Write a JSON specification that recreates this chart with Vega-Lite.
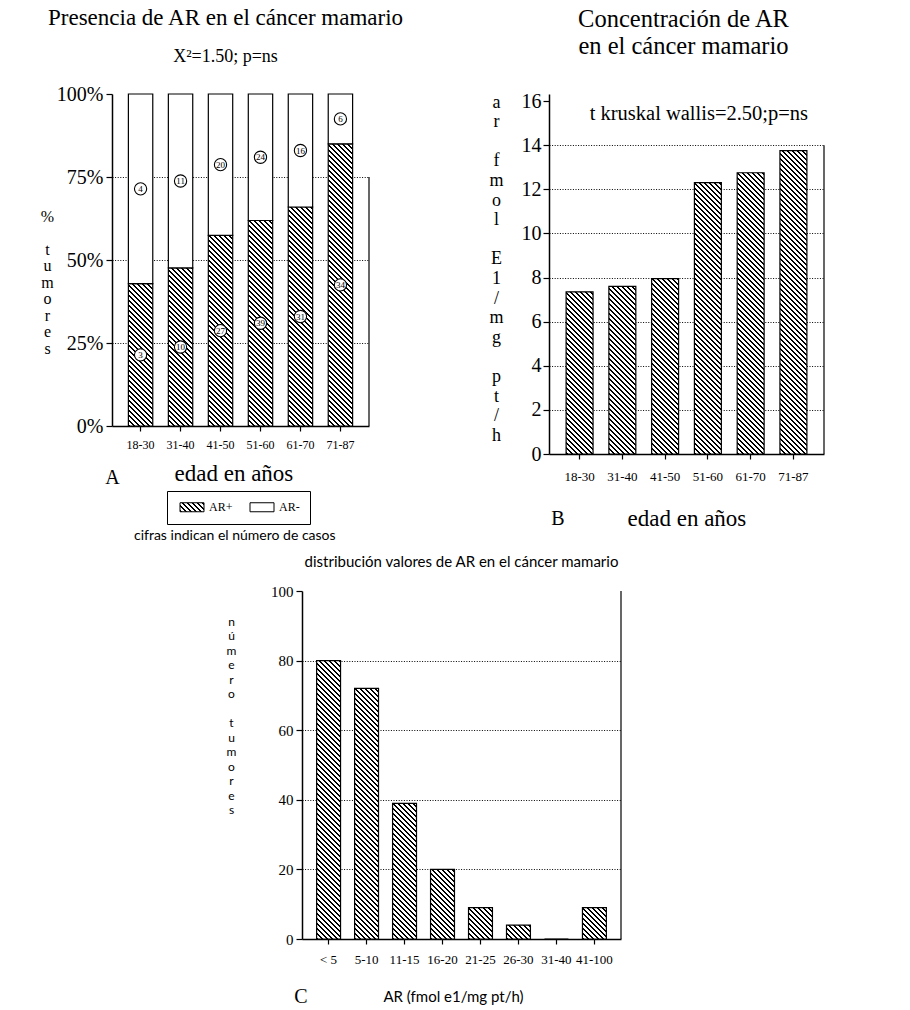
{
  "$schema": "https://vega.github.io/schema/vega-lite/v6.json",
  "background": "white",
  "padding": {"left": 40, "top": 6, "right": 5, "bottom": 2},
  "params": [
    {
      "name": "hatch",
      "value": [
        {"offset":0,"color":"#000"},{"offset":0.00571,"color":"#000"},{"offset":0.00571,"color":"#fff"},{"offset":0.01429,"color":"#fff"},
        {"offset":0.01429,"color":"#000"},{"offset":0.02,"color":"#000"},{"offset":0.02,"color":"#fff"},{"offset":0.02857,"color":"#fff"},
        {"offset":0.02857,"color":"#000"},{"offset":0.03429,"color":"#000"},{"offset":0.03429,"color":"#fff"},{"offset":0.04286,"color":"#fff"},
        {"offset":0.04286,"color":"#000"},{"offset":0.04857,"color":"#000"},{"offset":0.04857,"color":"#fff"},{"offset":0.05714,"color":"#fff"},
        {"offset":0.05714,"color":"#000"},{"offset":0.06286,"color":"#000"},{"offset":0.06286,"color":"#fff"},{"offset":0.07143,"color":"#fff"},
        {"offset":0.07143,"color":"#000"},{"offset":0.07714,"color":"#000"},{"offset":0.07714,"color":"#fff"},{"offset":0.08571,"color":"#fff"},
        {"offset":0.08571,"color":"#000"},{"offset":0.09143,"color":"#000"},{"offset":0.09143,"color":"#fff"},{"offset":0.1,"color":"#fff"},
        {"offset":0.1,"color":"#000"},{"offset":0.10571,"color":"#000"},{"offset":0.10571,"color":"#fff"},{"offset":0.11429,"color":"#fff"},
        {"offset":0.11429,"color":"#000"},{"offset":0.12,"color":"#000"},{"offset":0.12,"color":"#fff"},{"offset":0.12857,"color":"#fff"},
        {"offset":0.12857,"color":"#000"},{"offset":0.13429,"color":"#000"},{"offset":0.13429,"color":"#fff"},{"offset":0.14286,"color":"#fff"},
        {"offset":0.14286,"color":"#000"},{"offset":0.14857,"color":"#000"},{"offset":0.14857,"color":"#fff"},{"offset":0.15714,"color":"#fff"},
        {"offset":0.15714,"color":"#000"},{"offset":0.16286,"color":"#000"},{"offset":0.16286,"color":"#fff"},{"offset":0.17143,"color":"#fff"},
        {"offset":0.17143,"color":"#000"},{"offset":0.17714,"color":"#000"},{"offset":0.17714,"color":"#fff"},{"offset":0.18571,"color":"#fff"},
        {"offset":0.18571,"color":"#000"},{"offset":0.19143,"color":"#000"},{"offset":0.19143,"color":"#fff"},{"offset":0.2,"color":"#fff"},
        {"offset":0.2,"color":"#000"},{"offset":0.20571,"color":"#000"},{"offset":0.20571,"color":"#fff"},{"offset":0.21429,"color":"#fff"},
        {"offset":0.21429,"color":"#000"},{"offset":0.22,"color":"#000"},{"offset":0.22,"color":"#fff"},{"offset":0.22857,"color":"#fff"},
        {"offset":0.22857,"color":"#000"},{"offset":0.23429,"color":"#000"},{"offset":0.23429,"color":"#fff"},{"offset":0.24286,"color":"#fff"},
        {"offset":0.24286,"color":"#000"},{"offset":0.24857,"color":"#000"},{"offset":0.24857,"color":"#fff"},{"offset":0.25714,"color":"#fff"},
        {"offset":0.25714,"color":"#000"},{"offset":0.26286,"color":"#000"},{"offset":0.26286,"color":"#fff"},{"offset":0.27143,"color":"#fff"},
        {"offset":0.27143,"color":"#000"},{"offset":0.27714,"color":"#000"},{"offset":0.27714,"color":"#fff"},{"offset":0.28571,"color":"#fff"},
        {"offset":0.28571,"color":"#000"},{"offset":0.29143,"color":"#000"},{"offset":0.29143,"color":"#fff"},{"offset":0.3,"color":"#fff"},
        {"offset":0.3,"color":"#000"},{"offset":0.30571,"color":"#000"},{"offset":0.30571,"color":"#fff"},{"offset":0.31429,"color":"#fff"},
        {"offset":0.31429,"color":"#000"},{"offset":0.32,"color":"#000"},{"offset":0.32,"color":"#fff"},{"offset":0.32857,"color":"#fff"},
        {"offset":0.32857,"color":"#000"},{"offset":0.33429,"color":"#000"},{"offset":0.33429,"color":"#fff"},{"offset":0.34286,"color":"#fff"},
        {"offset":0.34286,"color":"#000"},{"offset":0.34857,"color":"#000"},{"offset":0.34857,"color":"#fff"},{"offset":0.35714,"color":"#fff"},
        {"offset":0.35714,"color":"#000"},{"offset":0.36286,"color":"#000"},{"offset":0.36286,"color":"#fff"},{"offset":0.37143,"color":"#fff"},
        {"offset":0.37143,"color":"#000"},{"offset":0.37714,"color":"#000"},{"offset":0.37714,"color":"#fff"},{"offset":0.38571,"color":"#fff"},
        {"offset":0.38571,"color":"#000"},{"offset":0.39143,"color":"#000"},{"offset":0.39143,"color":"#fff"},{"offset":0.4,"color":"#fff"},
        {"offset":0.4,"color":"#000"},{"offset":0.40571,"color":"#000"},{"offset":0.40571,"color":"#fff"},{"offset":0.41429,"color":"#fff"},
        {"offset":0.41429,"color":"#000"},{"offset":0.42,"color":"#000"},{"offset":0.42,"color":"#fff"},{"offset":0.42857,"color":"#fff"},
        {"offset":0.42857,"color":"#000"},{"offset":0.43429,"color":"#000"},{"offset":0.43429,"color":"#fff"},{"offset":0.44286,"color":"#fff"},
        {"offset":0.44286,"color":"#000"},{"offset":0.44857,"color":"#000"},{"offset":0.44857,"color":"#fff"},{"offset":0.45714,"color":"#fff"},
        {"offset":0.45714,"color":"#000"},{"offset":0.46286,"color":"#000"},{"offset":0.46286,"color":"#fff"},{"offset":0.47143,"color":"#fff"},
        {"offset":0.47143,"color":"#000"},{"offset":0.47714,"color":"#000"},{"offset":0.47714,"color":"#fff"},{"offset":0.48571,"color":"#fff"},
        {"offset":0.48571,"color":"#000"},{"offset":0.49143,"color":"#000"},{"offset":0.49143,"color":"#fff"},{"offset":0.5,"color":"#fff"},
        {"offset":0.5,"color":"#000"},{"offset":0.50571,"color":"#000"},{"offset":0.50571,"color":"#fff"},{"offset":0.51429,"color":"#fff"},
        {"offset":0.51429,"color":"#000"},{"offset":0.52,"color":"#000"},{"offset":0.52,"color":"#fff"},{"offset":0.52857,"color":"#fff"},
        {"offset":0.52857,"color":"#000"},{"offset":0.53429,"color":"#000"},{"offset":0.53429,"color":"#fff"},{"offset":0.54286,"color":"#fff"},
        {"offset":0.54286,"color":"#000"},{"offset":0.54857,"color":"#000"},{"offset":0.54857,"color":"#fff"},{"offset":0.55714,"color":"#fff"},
        {"offset":0.55714,"color":"#000"},{"offset":0.56286,"color":"#000"},{"offset":0.56286,"color":"#fff"},{"offset":0.57143,"color":"#fff"},
        {"offset":0.57143,"color":"#000"},{"offset":0.57714,"color":"#000"},{"offset":0.57714,"color":"#fff"},{"offset":0.58571,"color":"#fff"},
        {"offset":0.58571,"color":"#000"},{"offset":0.59143,"color":"#000"},{"offset":0.59143,"color":"#fff"},{"offset":0.6,"color":"#fff"},
        {"offset":0.6,"color":"#000"},{"offset":0.60571,"color":"#000"},{"offset":0.60571,"color":"#fff"},{"offset":0.61429,"color":"#fff"},
        {"offset":0.61429,"color":"#000"},{"offset":0.62,"color":"#000"},{"offset":0.62,"color":"#fff"},{"offset":0.62857,"color":"#fff"},
        {"offset":0.62857,"color":"#000"},{"offset":0.63429,"color":"#000"},{"offset":0.63429,"color":"#fff"},{"offset":0.64286,"color":"#fff"},
        {"offset":0.64286,"color":"#000"},{"offset":0.64857,"color":"#000"},{"offset":0.64857,"color":"#fff"},{"offset":0.65714,"color":"#fff"},
        {"offset":0.65714,"color":"#000"},{"offset":0.66286,"color":"#000"},{"offset":0.66286,"color":"#fff"},{"offset":0.67143,"color":"#fff"},
        {"offset":0.67143,"color":"#000"},{"offset":0.67714,"color":"#000"},{"offset":0.67714,"color":"#fff"},{"offset":0.68571,"color":"#fff"},
        {"offset":0.68571,"color":"#000"},{"offset":0.69143,"color":"#000"},{"offset":0.69143,"color":"#fff"},{"offset":0.7,"color":"#fff"},
        {"offset":0.7,"color":"#000"},{"offset":0.70571,"color":"#000"},{"offset":0.70571,"color":"#fff"},{"offset":0.71429,"color":"#fff"},
        {"offset":0.71429,"color":"#000"},{"offset":0.72,"color":"#000"},{"offset":0.72,"color":"#fff"},{"offset":0.72857,"color":"#fff"},
        {"offset":0.72857,"color":"#000"},{"offset":0.73429,"color":"#000"},{"offset":0.73429,"color":"#fff"},{"offset":0.74286,"color":"#fff"},
        {"offset":0.74286,"color":"#000"},{"offset":0.74857,"color":"#000"},{"offset":0.74857,"color":"#fff"},{"offset":0.75714,"color":"#fff"},
        {"offset":0.75714,"color":"#000"},{"offset":0.76286,"color":"#000"},{"offset":0.76286,"color":"#fff"},{"offset":0.77143,"color":"#fff"},
        {"offset":0.77143,"color":"#000"},{"offset":0.77714,"color":"#000"},{"offset":0.77714,"color":"#fff"},{"offset":0.78571,"color":"#fff"},
        {"offset":0.78571,"color":"#000"},{"offset":0.79143,"color":"#000"},{"offset":0.79143,"color":"#fff"},{"offset":0.8,"color":"#fff"},
        {"offset":0.8,"color":"#000"},{"offset":0.80571,"color":"#000"},{"offset":0.80571,"color":"#fff"},{"offset":0.81429,"color":"#fff"},
        {"offset":0.81429,"color":"#000"},{"offset":0.82,"color":"#000"},{"offset":0.82,"color":"#fff"},{"offset":0.82857,"color":"#fff"},
        {"offset":0.82857,"color":"#000"},{"offset":0.83429,"color":"#000"},{"offset":0.83429,"color":"#fff"},{"offset":0.84286,"color":"#fff"},
        {"offset":0.84286,"color":"#000"},{"offset":0.84857,"color":"#000"},{"offset":0.84857,"color":"#fff"},{"offset":0.85714,"color":"#fff"},
        {"offset":0.85714,"color":"#000"},{"offset":0.86286,"color":"#000"},{"offset":0.86286,"color":"#fff"},{"offset":0.87143,"color":"#fff"},
        {"offset":0.87143,"color":"#000"},{"offset":0.87714,"color":"#000"},{"offset":0.87714,"color":"#fff"},{"offset":0.88571,"color":"#fff"},
        {"offset":0.88571,"color":"#000"},{"offset":0.89143,"color":"#000"},{"offset":0.89143,"color":"#fff"},{"offset":0.9,"color":"#fff"},
        {"offset":0.9,"color":"#000"},{"offset":0.90571,"color":"#000"},{"offset":0.90571,"color":"#fff"},{"offset":0.91429,"color":"#fff"},
        {"offset":0.91429,"color":"#000"},{"offset":0.92,"color":"#000"},{"offset":0.92,"color":"#fff"},{"offset":0.92857,"color":"#fff"},
        {"offset":0.92857,"color":"#000"},{"offset":0.93429,"color":"#000"},{"offset":0.93429,"color":"#fff"},{"offset":0.94286,"color":"#fff"},
        {"offset":0.94286,"color":"#000"},{"offset":0.94857,"color":"#000"},{"offset":0.94857,"color":"#fff"},{"offset":0.95714,"color":"#fff"},
        {"offset":0.95714,"color":"#000"},{"offset":0.96286,"color":"#000"},{"offset":0.96286,"color":"#fff"},{"offset":0.97143,"color":"#fff"},
        {"offset":0.97143,"color":"#000"},{"offset":0.97714,"color":"#000"},{"offset":0.97714,"color":"#fff"},{"offset":0.98571,"color":"#fff"},
        {"offset":0.98571,"color":"#000"},{"offset":0.99143,"color":"#000"},{"offset":0.99143,"color":"#fff"},{"offset":1,"color":"#fff"}
      ]
    }
  ],
  "config": {
    "view": {"stroke": null},
    "font": "Liberation Serif",
    "axis": {
      "domainColor": "#000",
      "domainWidth": 1.5,
      "tickColor": "#000",
      "tickWidth": 1.2,
      "labelColor": "#000",
      "titleColor": "#000",
      "labelFont": "Liberation Serif",
      "gridColor": "#000",
      "gridDash": [1, 1.6],
      "gridWidth": 1
    },
    "title": {
      "font": "Liberation Serif",
      "fontWeight": "normal",
      "color": "#000",
      "subtitleFont": "Liberation Serif",
      "subtitleColor": "#000"
    }
  },
  "spacing": 12,
  "vconcat": [
    {
      "bounds": "flush",
      "spacing": 180,
      "hconcat": [
        {
          "width": 257,
          "height": 332,
          "title": {
            "text": "Presencia de AR en el cáncer mamario",
            "subtitle": "X²=1.50; p=ns",
            "fontSize": 23,
            "subtitleFontSize": 18,
            "subtitlePadding": 18,
            "anchor": "middle",
            "dx": -15,
            "offset": 18
          },
          "data": {
            "values": [
              {"edad": "18-30", "grupo": "AR+", "n": 3},
              {"edad": "18-30", "grupo": "AR-", "n": 4},
              {"edad": "31-40", "grupo": "AR+", "n": 10},
              {"edad": "31-40", "grupo": "AR-", "n": 11},
              {"edad": "41-50", "grupo": "AR+", "n": 27},
              {"edad": "41-50", "grupo": "AR-", "n": 20},
              {"edad": "51-60", "grupo": "AR+", "n": 39},
              {"edad": "51-60", "grupo": "AR-", "n": 24},
              {"edad": "61-70", "grupo": "AR+", "n": 31},
              {"edad": "61-70", "grupo": "AR-", "n": 16},
              {"edad": "71-87", "grupo": "AR+", "n": 34},
              {"edad": "71-87", "grupo": "AR-", "n": 6}
            ]
          },
          "transform": [
            {"stack": "n", "groupby": ["edad"], "sort": [{"field": "grupo", "order": "ascending"}], "offset": "normalize", "as": ["y0", "y1"]},
            {"calculate": "(datum.y0 + datum.y1) / 2", "as": "ymid"}
          ],
          "encoding": {
            "x": {
              "field": "edad",
              "type": "nominal",
              "sort": null,
              "scale": {"paddingInner": 0.39, "paddingOuter": 0.41},
              "axis": {
                "labelAngle": 0,
                "labelFontSize": 12,
                "labelPadding": 8,
                "tickSize": 5,
                "title": "edad en años",
                "titleFont": "Liberation Serif",
                "titleFontSize": 23,
                "titleFontWeight": "normal",
                "titleX": 62,
                "titleY": 54,
                "titleAlign": "left",
                "titleBaseline": "alphabetic"
              }
            }
          },
          "layer": [
            {
              "mark": {"type": "bar", "stroke": "#000", "strokeWidth": 1.2},
              "encoding": {
                "y": {
                  "field": "y1",
                  "type": "quantitative",
                  "scale": {"domain": [0, 1], "nice": false},
                  "axis": {
                    "values": [0, 0.25, 0.5, 0.75, 1],
                    "format": ".0%",
                    "labelFontSize": 20,
                    "labelPadding": 3,
                    "tickSize": 6,
                    "grid": true,
                    "gridOpacity": {"condition": {"test": "datum.value <= 0 || datum.value >= 1", "value": 0}, "value": 1},
                    "title": ["%", "\u2800", "t", "u", "m", "o", "r", "e", "s"],
                    "titleAngle": 0,
                    "titleFont": "Liberation Serif",
                    "titleFontSize": 16,
                    "titleFontWeight": "normal",
                    "titleLineHeight": 16.5,
                    "titleX": -65,
                    "titleY": 127,
                    "titleAlign": "center",
                    "titleBaseline": "alphabetic"
                  }
                },
                "y2": {"field": "y0"},
                "fill": {
                  "condition": {
                    "test": "datum.grupo === 'AR+'",
                    "value": {"expr": "{gradient: 'linear', x1: 0, y1: 1, x2: 350 * 24.38 / (594.38 + pow((datum.y1 - datum.y0) * 332, 2)), y2: 1 - 350 * (datum.y1 - datum.y0) * 332 / (594.38 + pow((datum.y1 - datum.y0) * 332, 2)), stops: hatch}"}
                  },
                  "field": "grupo",
                  "type": "nominal",
                  "scale": {
                    "domain": ["AR+", "AR-"],
                    "range": [{"expr": "{gradient: 'linear', x1: 0, y1: 1, x2: 12.785, y2: -3.795, stops: hatch}"}, "#fff"]
                  },
                  "legend": {
                    "orient": "none",
                    "legendX": 55,
                    "legendY": 397,
                    "direction": "horizontal",
                    "title": null,
                    "strokeColor": "#000",
                    "padding": 10,
                    "symbolType": "M-2.4,-0.9H2.4V0.9H-2.4Z",
                    "symbolSize": 100,
                    "symbolStrokeColor": "#000",
                    "symbolStrokeWidth": 1,
                    "symbolOffset": 9,
                    "labelOffset": 11,
                    "labelFont": "Liberation Serif",
                    "labelFontSize": 12,
                    "labelColor": "#000",
                    "columnPadding": 14
                  }
                }
              }
            },
            {
              "data": {"values": [{}]},
              "mark": {"type": "rule", "color": "#000", "strokeWidth": 1.2},
              "encoding": {
                "x": {"value": "width"},
                "y": {"datum": 0, "type": "quantitative"},
                "y2": {"datum": 0.75}
              }
            },
            {
              "mark": {"type": "point", "shape": "circle", "filled": true, "fill": "#fff", "stroke": "#000", "strokeWidth": 1.1, "size": 150, "opacity": 1},
              "encoding": {
                "y": {"field": "ymid", "type": "quantitative"}
              }
            },
            {
              "mark": {"type": "text", "font": "Liberation Serif", "fontSize": 9, "color": "#000", "baseline": "middle", "align": "center"},
              "encoding": {
                "y": {"field": "ymid", "type": "quantitative"},
                "text": {"field": "n", "type": "quantitative"}
              }
            },
            {
              "data": {"values": [{"t": "A"}]},
              "mark": {"type": "text", "font": "Liberation Serif", "fontSize": 20, "color": "#000", "align": "center", "baseline": "alphabetic", "dx": -28},
              "encoding": {
                "x": {"datum": "18-30", "type": "nominal"},
                "y": {"datum": -0.175, "type": "quantitative"},
                "text": {"field": "t"}
              }
            },
            {
              "data": {"values": [{"t": "cifras indican el número de casos"}]},
              "mark": {"type": "text", "font": "Lato", "fontSize": 14, "color": "#000", "align": "left", "baseline": "alphabetic", "dx": -6.6},
              "encoding": {
                "x": {"datum": "18-30", "type": "nominal"},
                "y": {"datum": -0.343, "type": "quantitative"},
                "text": {"field": "t"}
              }
            }
          ]
        },
        {
          "width": 275,
          "height": 360,
          "title": {
            "text": ["Concentración de AR", "en el cáncer mamario"],
            "fontSize": 24.5,
            "lineHeight": 27,
            "anchor": "middle",
            "dx": -3,
            "offset": 32
          },
          "data": {
            "values": [
              {"edad": "18-30", "ar": 7.35},
              {"edad": "31-40", "ar": 7.6},
              {"edad": "41-50", "ar": 7.95},
              {"edad": "51-60", "ar": 12.3},
              {"edad": "61-70", "ar": 12.75},
              {"edad": "71-87", "ar": 13.75}
            ]
          },
          "encoding": {
            "x": {
              "field": "edad",
              "type": "nominal",
              "sort": null,
              "scale": {"paddingInner": 0.37, "paddingOuter": 0.4},
              "axis": {
                "labelAngle": 0,
                "labelFontSize": 13,
                "labelPadding": 11,
                "tickSize": 5,
                "title": "edad en años",
                "titleFont": "Liberation Serif",
                "titleFontSize": 23,
                "titleFontWeight": "normal",
                "titleX": 78,
                "titleY": 71,
                "titleAlign": "left",
                "titleBaseline": "alphabetic"
              }
            }
          },
          "layer": [
            {
              "mark": {
                "type": "bar",
                "stroke": "#000",
                "strokeWidth": 1.2,
                "fill": {"expr": "{gradient: 'linear', x1: 0, y1: 1, x2: 350 * 26.94 / (725.76 + pow(datum.ar * 22.059, 2)), y2: 1 - 350 * datum.ar * 22.059 / (725.76 + pow(datum.ar * 22.059, 2)), stops: hatch}"}
              },
              "encoding": {
                "y": {
                  "field": "ar",
                  "type": "quantitative",
                  "scale": {"domain": [0, 16.32], "nice": false},
                  "axis": {
                    "values": [0, 2, 4, 6, 8, 10, 12, 14, 16],
                    "labelFontSize": 20,
                    "labelPadding": 2,
                    "tickSize": 6,
                    "grid": true,
                    "gridOpacity": {"condition": {"test": "datum.value <= 0 || datum.value >= 15", "value": 0}, "value": 1},
                    "title": ["a", "r", "\u2800", "f", "m", "o", "l", "\u2800", "E", "1", "/", "m", "g", "\u2800", "p", "t", "/", "h"],
                    "titleAngle": 0,
                    "titleFont": "Liberation Serif",
                    "titleFontSize": 18,
                    "titleFontWeight": "normal",
                    "titleLineHeight": 19.6,
                    "titleX": -53,
                    "titleY": 13,
                    "titleAlign": "center",
                    "titleBaseline": "alphabetic"
                  }
                }
              }
            },
            {
              "data": {"values": [{}]},
              "mark": {"type": "rule", "color": "#000", "strokeWidth": 1.2},
              "encoding": {
                "x": {"value": "width"},
                "y": {"datum": 0, "type": "quantitative"},
                "y2": {"datum": 14}
              }
            },
            {
              "data": {"values": [{"t": "t kruskal wallis=2.50;p=ns"}]},
              "mark": {"type": "text", "font": "Liberation Serif", "fontSize": 20.5, "color": "#000", "align": "center", "baseline": "alphabetic", "dx": -9},
              "encoding": {
                "x": {"datum": "51-60", "type": "nominal"},
                "y": {"datum": 15.14, "type": "quantitative"},
                "text": {"field": "t"}
              }
            },
            {
              "data": {"values": [{"t": "B"}]},
              "mark": {"type": "text", "font": "Liberation Serif", "fontSize": 20, "color": "#000", "align": "center", "baseline": "alphabetic", "dx": -21.6},
              "encoding": {
                "x": {"datum": "18-30", "type": "nominal"},
                "y": {"datum": -3.22, "type": "quantitative"},
                "text": {"field": "t"}
              }
            }
          ]
        }
      ]
    },
    {
      "bounds": "flush",
      "spacing": 189,
      "hconcat": [
        {
          "width": 1,
          "height": 1,
          "data": {"values": [{}]},
          "mark": {"type": "point", "opacity": 0, "size": 0},
          "encoding": {}
        },
        {
          "width": 319,
          "height": 348,
          "title": {
            "text": "distribución valores de AR en el cáncer mamario",
            "font": "Lato",
            "fontSize": 15,
            "anchor": "middle",
            "offset": 14
          },
          "data": {
            "values": [
              {"rango": "< 5", "n": 80},
              {"rango": "5-10", "n": 72},
              {"rango": "11-15", "n": 39},
              {"rango": "16-20", "n": 20},
              {"rango": "21-25", "n": 9},
              {"rango": "26-30", "n": 4},
              {"rango": "31-40", "n": 0},
              {"rango": "41-100", "n": 9}
            ]
          },
          "encoding": {
            "x": {
              "field": "rango",
              "type": "nominal",
              "sort": null,
              "scale": {"paddingInner": 0.37, "paddingOuter": 0.385},
              "axis": {
                "labelAngle": 0,
                "labelFontSize": 13,
                "labelPadding": 9,
                "tickSize": 5,
                "title": "AR (fmol e1/mg pt/h)",
                "titleFont": "Lato",
                "titleFontSize": 15,
                "titleFontWeight": "normal",
                "titleX": 151,
                "titleY": 62,
                "titleAlign": "center",
                "titleBaseline": "alphabetic"
              }
            }
          },
          "layer": [
            {
              "mark": {
                "type": "bar",
                "stroke": "#000",
                "strokeWidth": 1.2,
                "fill": {"expr": "{gradient: 'linear', x1: 0, y1: 1, x2: 350 * 23.925 / (572.4 + pow(datum.n * 3.48, 2)), y2: 1 - 350 * datum.n * 3.48 / (572.4 + pow(datum.n * 3.48, 2)), stops: hatch}"}
              },
              "encoding": {
                "y": {
                  "field": "n",
                  "type": "quantitative",
                  "scale": {"domain": [0, 100], "nice": false},
                  "axis": {
                    "values": [0, 20, 40, 60, 80, 100],
                    "labelFontSize": 15,
                    "labelPadding": 3,
                    "tickSize": 6,
                    "grid": true,
                    "gridOpacity": {"condition": {"test": "datum.value <= 0 || datum.value >= 100", "value": 0}, "value": 1},
                    "title": ["n", "ú", "m", "e", "r", "o", "\u2800", "t", "u", "m", "o", "r", "e", "s"],
                    "titleAngle": 0,
                    "titleFont": "Lato",
                    "titleFontSize": 12,
                    "titleFontWeight": "normal",
                    "titleLineHeight": 14.5,
                    "titleX": -71,
                    "titleY": 34,
                    "titleAlign": "center",
                    "titleBaseline": "alphabetic"
                  }
                }
              }
            },
            {
              "data": {"values": [{}]},
              "mark": {"type": "rule", "color": "#000", "strokeWidth": 1.2},
              "encoding": {
                "x": {"value": "width"},
                "y": {"datum": 0, "type": "quantitative"},
                "y2": {"datum": 100}
              }
            },
            {
              "data": {"values": [{"t": "C"}]},
              "mark": {"type": "text", "font": "Liberation Serif", "fontSize": 20, "color": "#000", "align": "center", "baseline": "alphabetic", "dx": -27.6},
              "encoding": {
                "x": {"datum": "< 5", "type": "nominal"},
                "y": {"datum": -18.5, "type": "quantitative"},
                "text": {"field": "t"}
              }
            }
          ]
        }
      ]
    }
  ]
}
